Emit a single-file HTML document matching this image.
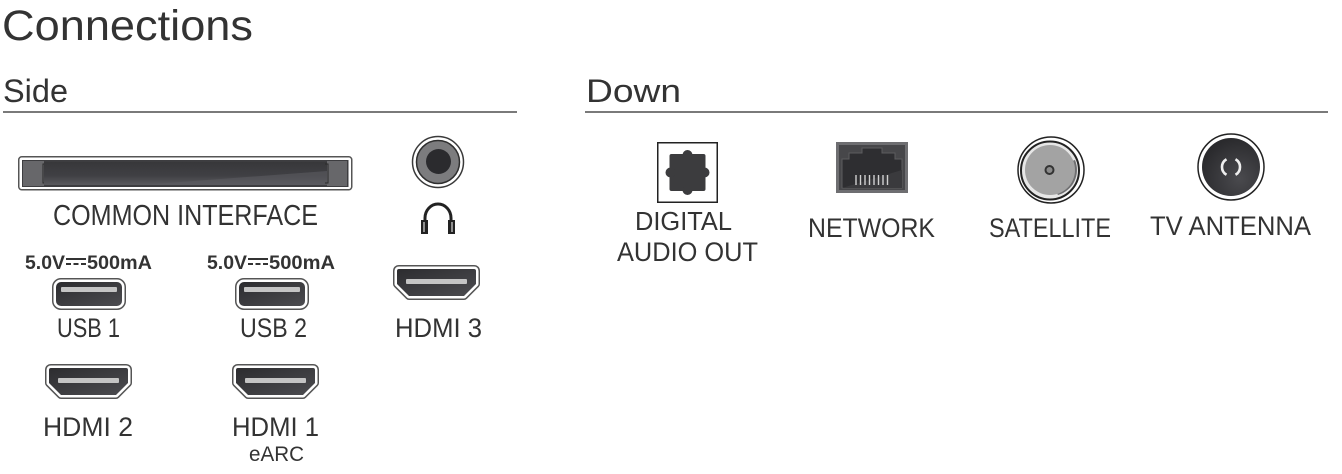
<!DOCTYPE html>
<html><head><meta charset="utf-8">
<style>
html,body{margin:0;padding:0;background:#fff;}
svg{display:block;}
text{font-family:"Liberation Sans",Arial,sans-serif;fill:#333;}
</style></head>
<body>
<svg width="1342" height="474" viewBox="0 0 1342 474" xmlns="http://www.w3.org/2000/svg">
<defs>
<linearGradient id="dk" x1="0" y1="0" x2="1" y2="1">
<stop offset="0" stop-color="#2c2c2f"/><stop offset="1" stop-color="#4c4c50"/></linearGradient>
<linearGradient id="ci" x1="0" y1="0" x2="0" y2="1">
<stop offset="0" stop-color="#37373a"/><stop offset="0.6" stop-color="#404044"/><stop offset="1" stop-color="#5a5a5e"/></linearGradient>
<radialGradient id="tv" cx="0.65" cy="0.7" r="0.7">
<stop offset="0" stop-color="#4a4a4e"/><stop offset="1" stop-color="#2a2a2d"/></radialGradient>
</defs>

<!-- headings -->
<text x="2" y="40" font-size="43" textLength="251" lengthAdjust="spacingAndGlyphs">Connections</text>
<text x="3" y="102" font-size="32" textLength="65" lengthAdjust="spacingAndGlyphs">Side</text>
<text x="586" y="102" font-size="32" textLength="95" lengthAdjust="spacingAndGlyphs">Down</text>
<rect x="3" y="111" width="514" height="2" fill="#7a7a7a"/>
<rect x="585" y="111" width="743" height="2" fill="#7a7a7a"/>

<!-- Common interface slot -->
<rect x="18.75" y="156.75" width="333" height="33" rx="3" fill="#fff" stroke="#555" stroke-width="1.5"/>
<rect x="22" y="160" width="326.5" height="27" fill="#3d3d40"/>
<rect x="23" y="161" width="21" height="25" fill="#67676a"/>
<path d="M46 164 h-3 v19 h3" fill="none" stroke="#2a2a2a" stroke-width="1"/>
<rect x="44" y="162" width="283" height="23" fill="url(#ci)"/>
<polygon points="140,185 327,185 327,171" fill="#5c5c60" opacity="0.6"/>
<rect x="327" y="161" width="20" height="25" fill="#67676a"/>
<path d="M325 164 h3 v19 h-3" fill="none" stroke="#2a2a2a" stroke-width="1"/>
<text x="53" y="225" font-size="29" textLength="265" lengthAdjust="spacingAndGlyphs">COMMON INTERFACE</text>

<!-- headphone jack -->
<circle cx="438" cy="162" r="25.5" fill="#fff" stroke="#3a3a3a" stroke-width="1.5"/>
<circle cx="438" cy="162" r="21.5" fill="#7c7c7e" stroke="#2e2e2e" stroke-width="1.5"/>
<circle cx="438.5" cy="161.5" r="12.5" fill="#2b2b2e"/>
<path d="M425 222 v-4 a13 14 0 0 1 26 0 v4" fill="none" stroke="#222" stroke-width="3"/>
<rect x="421" y="220" width="7" height="14" fill="#222"/>
<rect x="448" y="220" width="7" height="14" fill="#222"/>
<rect x="423.5" y="222" width="1" height="10" fill="#fff"/>
<rect x="451.5" y="222" width="1" height="10" fill="#fff"/>

<!-- USB ratings -->
<g font-weight="bold" font-size="19">
<text x="25" y="269" textLength="40" lengthAdjust="spacingAndGlyphs">5.0V</text>
<text x="87" y="269" textLength="65" lengthAdjust="spacingAndGlyphs">500mA</text>
<text x="207" y="269" textLength="40" lengthAdjust="spacingAndGlyphs">5.0V</text>
<text x="269" y="269" textLength="66" lengthAdjust="spacingAndGlyphs">500mA</text>
</g>
<g fill="#333">
<rect x="66" y="258" width="20" height="2"/>
<rect x="66" y="263" width="5" height="2"/><rect x="73.5" y="263" width="5" height="2"/><rect x="81" y="263" width="5" height="2"/>
<rect x="248" y="258" width="20" height="2"/>
<rect x="248" y="263" width="5" height="2"/><rect x="255.5" y="263" width="5" height="2"/><rect x="263" y="263" width="5" height="2"/>
</g>

<!-- USB 1 -->
<rect x="56" y="282" width="66" height="24" rx="5" fill="none" stroke="#555" stroke-width="8"/>
<rect x="56" y="282" width="66" height="24" rx="5" fill="none" stroke="#fff" stroke-width="5"/>
<rect x="56" y="282" width="66" height="24" rx="5" fill="url(#dk)"/>
<rect x="61" y="287" width="56" height="5" rx="1" fill="#c4c4c4"/>
<text x="57" y="337" font-size="27" textLength="63" lengthAdjust="spacingAndGlyphs">USB 1</text>

<!-- USB 2 -->
<rect x="239" y="282" width="66" height="24" rx="5" fill="none" stroke="#555" stroke-width="8"/>
<rect x="239" y="282" width="66" height="24" rx="5" fill="none" stroke="#fff" stroke-width="5"/>
<rect x="239" y="282" width="66" height="24" rx="5" fill="url(#dk)"/>
<rect x="244" y="287" width="56" height="5" rx="1" fill="#c4c4c4"/>
<text x="240" y="337" font-size="27" textLength="67" lengthAdjust="spacingAndGlyphs">USB 2</text>

<!-- HDMI 3 -->
<g stroke-linejoin="round">
<path d="M399 269 H474 Q476 269 476 271 V284 L464 296 H409 L397 284 V271 Q397 269 399 269 Z" fill="none" stroke="#555" stroke-width="8"/>
<path d="M399 269 H474 Q476 269 476 271 V284 L464 296 H409 L397 284 V271 Q397 269 399 269 Z" fill="none" stroke="#fff" stroke-width="5"/>
<path d="M399 269 H474 Q476 269 476 271 V284 L464 296 H409 L397 284 V271 Q397 269 399 269 Z" fill="url(#dk)"/>
</g>
<rect x="406" y="279" width="61" height="5" rx="1" fill="#c4c4c4"/>
<text x="395" y="337" font-size="27" textLength="87" lengthAdjust="spacingAndGlyphs">HDMI 3</text>

<!-- HDMI 2 -->
<g stroke-linejoin="round">
<path d="M51 368 H126 Q128 368 128 370 V383 L116 395 H61 L49 383 V370 Q49 368 51 368 Z" fill="none" stroke="#555" stroke-width="8"/>
<path d="M51 368 H126 Q128 368 128 370 V383 L116 395 H61 L49 383 V370 Q49 368 51 368 Z" fill="none" stroke="#fff" stroke-width="5"/>
<path d="M51 368 H126 Q128 368 128 370 V383 L116 395 H61 L49 383 V370 Q49 368 51 368 Z" fill="url(#dk)"/>
</g>
<rect x="58" y="378" width="61" height="5" rx="1" fill="#c4c4c4"/>
<text x="43" y="436" font-size="27" textLength="90" lengthAdjust="spacingAndGlyphs">HDMI 2</text>

<!-- HDMI 1 -->
<g stroke-linejoin="round">
<path d="M238 368 H313 Q315 368 315 370 V383 L303 395 H248 L236 383 V370 Q236 368 238 368 Z" fill="none" stroke="#555" stroke-width="8"/>
<path d="M238 368 H313 Q315 368 315 370 V383 L303 395 H248 L236 383 V370 Q236 368 238 368 Z" fill="none" stroke="#fff" stroke-width="5"/>
<path d="M238 368 H313 Q315 368 315 370 V383 L303 395 H248 L236 383 V370 Q236 368 238 368 Z" fill="url(#dk)"/>
</g>
<rect x="245" y="378" width="61" height="5" rx="1" fill="#c4c4c4"/>
<text x="232" y="436" font-size="27" textLength="87" lengthAdjust="spacingAndGlyphs">HDMI 1</text>
<text x="249" y="461" font-size="21" textLength="55" lengthAdjust="spacingAndGlyphs">eARC</text>

<!-- Digital audio out -->
<rect x="657.75" y="142.75" width="59.5" height="59.5" fill="#fff" stroke="#222" stroke-width="1.5"/>
<g fill="#3c3c3e">
<rect x="669.5" y="154" width="36" height="37" rx="2"/>
<circle cx="687.5" cy="155" r="5"/><circle cx="687.5" cy="190" r="5"/>
<circle cx="670.5" cy="172.5" r="5"/><circle cx="704.5" cy="172.5" r="5"/>
</g>
<text x="635" y="230" font-size="26" textLength="97" lengthAdjust="spacingAndGlyphs">DIGITAL</text>
<text x="617" y="261" font-size="27" textLength="141" lengthAdjust="spacingAndGlyphs">AUDIO OUT</text>

<!-- Network -->
<rect x="836" y="142" width="72" height="51" fill="#6e6e71"/>
<rect x="839" y="145" width="66" height="45" fill="#47474a"/>
<polygon points="862,148 882,148 882,153 895,153 895,159 902,159 902,188 842,188 842,159 849,159 849,153 862,153" fill="#2e2e31" stroke="#5c5c5f" stroke-width="1"/>
<polygon points="842,188 902,188 902,170" fill="#3a3a3d"/>
<g stroke="#d0d0d0" stroke-width="1.4">
<line x1="856" y1="175" x2="856" y2="185"/><line x1="860.5" y1="175" x2="860.5" y2="185"/>
<line x1="865" y1="175" x2="865" y2="185"/><line x1="869.5" y1="175" x2="869.5" y2="185"/>
<line x1="874" y1="175" x2="874" y2="185"/><line x1="878.5" y1="175" x2="878.5" y2="185"/>
<line x1="883" y1="175" x2="883" y2="185"/><line x1="887.5" y1="175" x2="887.5" y2="185"/>
</g>
<text x="808" y="237" font-size="27" textLength="127" lengthAdjust="spacingAndGlyphs">NETWORK</text>

<!-- Satellite -->
<circle cx="1051" cy="170" r="33" fill="#fff" stroke="#222" stroke-width="1.5"/>
<circle cx="1050" cy="170.5" r="29" fill="#e6e6e6" stroke="#222" stroke-width="2"/>
<path d="M1075 160 A26 26 0 0 1 1058 195 L1056 192 A24 24 0 0 0 1072 161 Z" fill="#6e6e70"/>
<circle cx="1050" cy="170" r="25" fill="#a3a3a3"/>
<circle cx="1049.5" cy="170" r="4" fill="#8a8a8a" stroke="#333" stroke-width="2"/>
<text x="989" y="237" font-size="27" textLength="122" lengthAdjust="spacingAndGlyphs">SATELLITE</text>

<!-- TV antenna -->
<circle cx="1231" cy="167" r="33" fill="#fff" stroke="#222" stroke-width="1.5"/>
<circle cx="1231" cy="167" r="29" fill="url(#tv)"/>
<path d="M1226.5 159.2 A9 9 0 0 0 1226.5 174.8" fill="none" stroke="#eee" stroke-width="2.6"/>
<path d="M1235.5 159.2 A9 9 0 0 1 1235.5 174.8" fill="none" stroke="#eee" stroke-width="2.6"/>
<text x="1150" y="235" font-size="27" textLength="161" lengthAdjust="spacingAndGlyphs">TV ANTENNA</text>
</svg>
</body></html>
